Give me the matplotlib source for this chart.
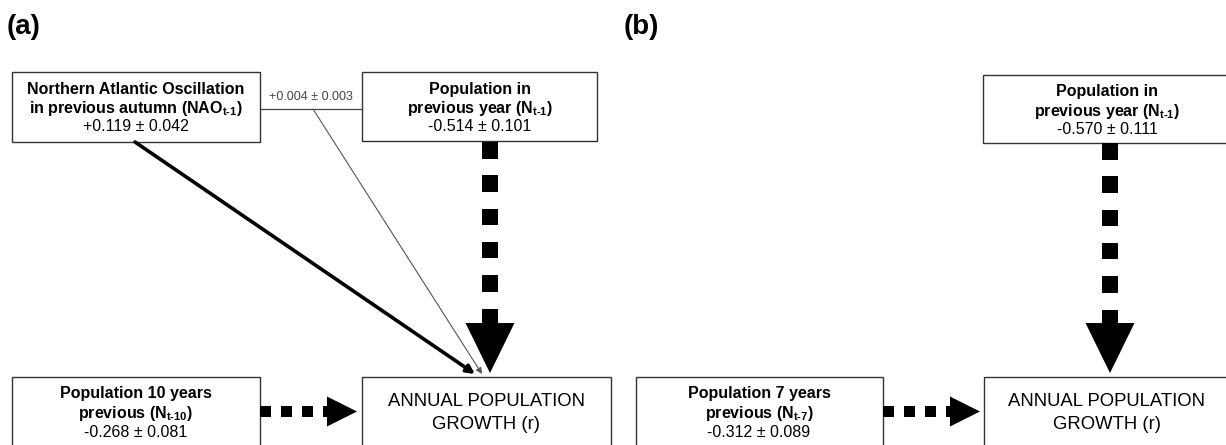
import matplotlib
matplotlib.use('Agg')
import matplotlib.pyplot as plt
from matplotlib.patches import Rectangle, Polygon

plt.rcParams['font.family'] = ['Liberation Sans', 'DejaVu Sans']
plt.rcParams['mathtext.fontset'] = 'custom'
plt.rcParams['mathtext.rm'] = 'Liberation Sans'
plt.rcParams['mathtext.bf'] = 'Liberation Sans:bold'
plt.rcParams['mathtext.it'] = 'Liberation Sans:italic'

# path coefficients (estimate, SE)
panel_labels = ['(a)', '(b)']
nao_a = [0.119, 0.042]
nao_pop_a = [0.004, 0.003]
pop1_a = [-0.514, 0.101]
pop10_a = [-0.268, 0.081]
pop1_b = [-0.570, 0.111]
pop7_b = [-0.312, 0.089]

target_lines = ['ANNUAL POPULATION', 'GROWTH (r)']
HY = '\u2010'  # hyphen for subscripts (mathtext would turn '-' into a minus)


def fmt(c):
    return f'{c[0]:+.3f} \u00b1 {c[1]:.3f}'


def sub(s):
    return r'$_{\mathbf{' + s.replace('-', HY) + '}}$'


fig = plt.figure(figsize=(12.26, 4.45), dpi=100)
ax = fig.add_axes([0, 0, 1, 1])
ax.set_xlim(0, 1226)
ax.set_ylim(445, 0)
ax.axis('off')

BOXC = '#333333'
FS = 11.5


def box(x0, y0, x1, y1):
    ax.add_patch(Rectangle((x0, y0), x1 - x0, y1 - y0, fill=False,
                           ec=BOXC, lw=1.0))


def box_text(cx, ys, lines, coef):
    ax.text(cx, ys[0], lines[0], ha='center', va='baseline',
            fontsize=FS, fontweight='bold')
    ax.text(cx, ys[1], lines[1], ha='center', va='baseline',
            fontsize=FS, fontweight='bold')
    ax.text(cx, ys[2], fmt(coef), ha='center', va='baseline', fontsize=FS)


def dashed_arrow(x0, y0, x1, y1, n, sq, period, head_len, head_w):
    # squares + short shaft + triangle head, along x or y
    if x0 == x1:  # vertical, downwards
        for i in range(n):
            s = y0 + i * period
            ax.add_patch(Rectangle((x0 - sq / 2, s), sq, sq, color='black', lw=0))
        s = y0 + n * period
        ax.add_patch(Rectangle((x0 - sq / 2, s), sq, y1 - head_len - s + 1,
                               color='black', lw=0))
        ax.add_patch(Polygon([(x0 - head_w / 2, y1 - head_len),
                              (x0 + head_w / 2, y1 - head_len), (x1, y1)],
                             color='black', lw=0))
    else:  # horizontal, to the right
        for i in range(n):
            s = x0 + i * period
            ax.add_patch(Rectangle((s, y0 - sq / 2), sq, sq, color='black', lw=0))
        s = x0 + n * period
        ax.add_patch(Rectangle((s, y0 - sq / 2), x1 - head_len - s + 1, sq,
                               color='black', lw=0))
        ax.add_patch(Polygon([(x1 - head_len, y0 - head_w / 2),
                              (x1 - head_len, y0 + head_w / 2), (x1, y1)],
                             color='black', lw=0))


# panel labels
ax.text(7, 34, panel_labels[0], fontsize=20, fontweight='bold', va='baseline')
ax.text(624, 34, panel_labels[1], fontsize=20, fontweight='bold', va='baseline')

# ---------------- panel (a) ----------------
box(12, 72, 260, 142)
box_text(136, [94, 113, 131],
         ['Northern Atlantic Oscillation',
          'in previous autumn (NAO' + sub('t-1') + ')'], nao_a)
box(362, 72, 597, 141)
box_text(480, [94, 113, 131],
         ['Population in', 'previous year (N' + sub('t-1') + ')'], pop1_a)
box(12, 377, 260, 460)
box_text(136, [398, 418, 437],
         ['Population 10 years', 'previous (N' + sub('t-10') + ')'], pop10_a)
box(362, 377, 611, 460)
ax.text(486, 406, target_lines[0], ha='center', va='baseline', fontsize=13.3)
ax.text(486, 429, target_lines[1], ha='center', va='baseline', fontsize=13.3)

# interaction link
ax.plot([260, 362], [109, 109], color='#444444', lw=0.9)
ax.text(311, 100, fmt(nao_pop_a), ha='center', va='baseline',
        fontsize=9, color='#444444')
ax.annotate('', xy=(482, 374), xytext=(313, 109),
            arrowprops=dict(arrowstyle='-|>', color='#555555', lw=0.8,
                            mutation_scale=9, shrinkA=0, shrinkB=0))
ax.annotate('', xy=(475, 374), xytext=(135, 142),
            arrowprops=dict(arrowstyle='-|>', color='black', lw=2.6,
                            mutation_scale=12, shrinkA=0, shrinkB=0))

dashed_arrow(490, 142, 490, 373, 5, 16.5, 33.3, 50, 49)
dashed_arrow(260, 411.5, 357, 411.5, 3, 10.5, 21, 30, 30)

# ---------------- panel (b) ----------------
box(983, 75, 1240, 143)
box_text(1107, [96, 116, 134],
         ['Population in', 'previous year (N' + sub('t-1') + ')'], pop1_b)
box(636, 377, 883, 460)
box_text(759, [398, 418, 437],
         ['Population 7 years', 'previous (N' + sub('t-7') + ')'], pop7_b)
box(984, 377, 1240, 460)
ax.text(1107, 406, target_lines[0], ha='center', va='baseline', fontsize=13.3)
ax.text(1107, 429, target_lines[1], ha='center', va='baseline', fontsize=13.3)

dashed_arrow(1110, 143, 1110, 373, 5, 16.5, 33.3, 50, 49)
dashed_arrow(883, 411.5, 980, 411.5, 3, 10.5, 21, 30, 30)

fig.savefig('out.png', dpi=100)
